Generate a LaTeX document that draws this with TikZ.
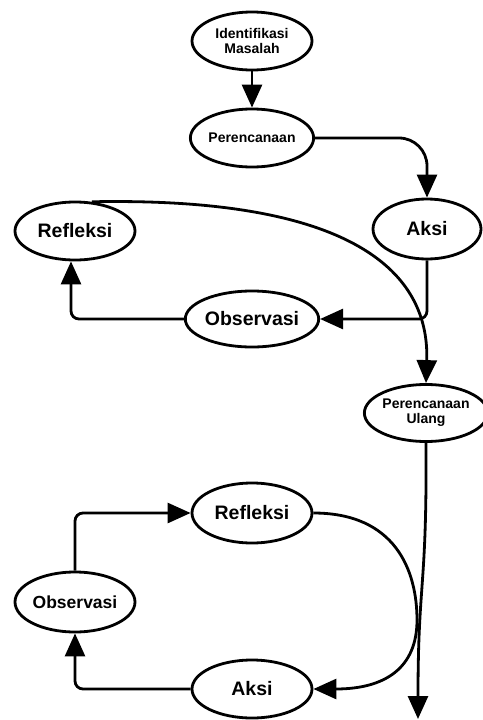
\documentclass[tikz,border=0pt]{standalone}
\usepackage{fontspec}
\setmainfont{Liberation Sans}
\usetikzlibrary{arrows.meta,shapes.geometric}
\tikzset{
  ell/.style={ellipse,draw=black,line width=2.8pt,inner sep=0pt,align=center,font=\bfseries},
  bigtxt/.style={font=\bfseries\fontsize{19.5}{21}\selectfont},
  smalltxt/.style={font=\bfseries\fontsize{14}{15}\selectfont},
  arr/.style={line width=2.8pt,-{Triangle[length=23pt,width=20pt]}}
}
\begin{document}
\begin{tikzpicture}[x=1pt,y=-1pt]
\useasboundingbox (0,0) rectangle (482,720);
\node[ell,smalltxt,minimum width=120pt,minimum height=58pt] (idm) at (252,41) {Identifikasi\\Masalah};
\node[ell,smalltxt,minimum width=122pt,minimum height=58pt] (per) at (252,138) {Perencanaan};
\node[ell,bigtxt,minimum width=108pt,minimum height=60pt] (aksi1) at (427,229) {Aksi};
\node[ell,bigtxt,minimum width=120pt,minimum height=58pt] (ref1) at (75,231) {Refleksi};
\node[ell,bigtxt,minimum width=120pt,minimum height=56pt] (obs1) at (252,319) {Observasi};
\node[ell,smalltxt,minimum width=112pt,minimum height=57pt] (pu) at (426,413) {Perencanaan\\Ulang};
\node[ell,bigtxt,minimum width=120pt,minimum height=60pt] (ref2) at (252,513) {Refleksi};
\node[ell,font=\bfseries\fontsize{17.5}{19}\selectfont,minimum width=120pt,minimum height=60pt] (obs2) at (75,602) {Observasi};
\node[ell,bigtxt,minimum width=120pt,minimum height=58pt] (aksi2) at (252,689) {Aksi};
\coordinate (end) at (418,719);

\draw[arr] (idm.south) -- (per.north);
\draw[arr,rounded corners=28pt] (per.east) -| (aksi1.north);
\draw[arr,rounded corners=8pt] (aksi1.south) |- (obs1.east);
\draw[arr,rounded corners=8pt] (obs1.west) -| ([xshift=-4pt]ref1.south);
\draw[arr] (ref1.60) .. controls (340,197) and (430,265) .. (pu.north);
\draw[arr] (pu.south) .. controls (427,590) and (418,580) .. (end);
\draw[arr,rounded corners=8pt] (obs2.north) |- (ref2.west);
\draw[arr] (ref2.east) .. controls (395,513) and (417,570) .. (417,620) .. controls (417,668) and (385,689) .. (aksi2.east);
\draw[arr,rounded corners=8pt] (aksi2.west) -| (obs2.south);
\end{tikzpicture}
\end{document}
